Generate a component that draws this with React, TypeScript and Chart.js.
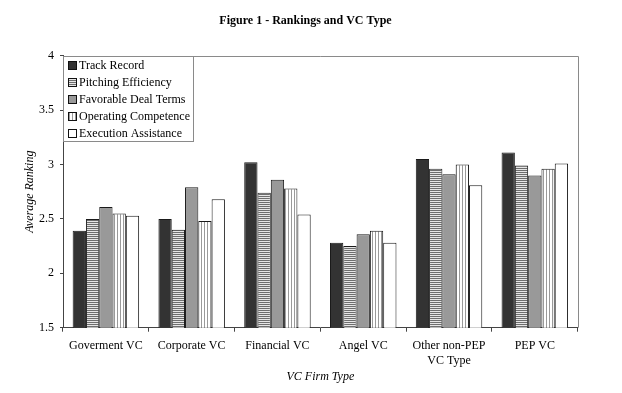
import React, { useEffect, useRef } from 'react';
import { Chart, registerables } from 'chart.js';

Chart.register(...registerables);

const chartTitle = 'Figure 1 - Rankings and VC Type';
const categories: (string | string[])[] = [
  'Goverment VC',
  'Corporate VC',
  'Financial VC',
  'Angel VC',
  ['Other non-PEP', 'VC Type'],
  'PEP VC',
];
const seriesNames = [
  'Track Record',
  'Pitching Efficiency',
  'Favorable Deal Terms',
  'Operating Competence',
  'Execution Assistance',
];
const trackRecord = [2.39, 2.5, 3.02, 2.28, 3.05, 3.11];
const pitchingEfficiency = [2.5, 2.4, 2.74, 2.25, 2.96, 2.99];
const favorableDealTerms = [2.61, 2.79, 2.86, 2.36, 2.91, 2.9];
const operatingCompetence = [2.55, 2.48, 2.78, 2.39, 3.0, 2.96];
const executionAssistance = [2.53, 2.68, 2.54, 2.28, 2.81, 3.01];
const yMin = 1.5;
const yMax = 4;
const yStep = 0.5;
const yTitle = 'Average Ranking';
const xTitle = 'VC Firm Type';

const SERIF = '"Liberation Serif", "Times New Roman", serif';

function makePattern(kind: 'h' | 'v'): CanvasPattern | string {
  const c = document.createElement('canvas');
  const ctx = c.getContext('2d');
  if (!ctx) return '#aaa';
  if (kind === 'h') {
    c.width = 4;
    c.height = 2;
    ctx.fillStyle = '#e6e6e6';
    ctx.fillRect(0, 0, 4, 2);
    ctx.fillStyle = '#6e6e6e';
    ctx.fillRect(0, 0, 4, 1);
  } else {
    c.width = 3;
    c.height = 4;
    ctx.fillStyle = '#ffffff';
    ctx.fillRect(0, 0, 3, 4);
    ctx.fillStyle = '#9a9a9a';
    ctx.fillRect(0, 0, 1, 4);
  }
  return ctx.createPattern(c, 'repeat') || '#aaa';
}

const frameAndLegend = {
  id: 'frameAndLegend',
  afterLayout(chart: any) {
    const t = chart.titleBlock;
    if (t) {
      t.left = 0;
      t.right = 611;
      t.width = 611;
    }
  },
  afterDraw(chart: any) {
    const { ctx, chartArea } = chart;
    const { left, top, right, bottom } = chartArea;
    ctx.save();
    ctx.strokeStyle = '#8a8a8a';
    ctx.lineWidth = 1;
    ctx.beginPath();
    ctx.moveTo(left, Math.round(top) + 0.5);
    ctx.lineTo(Math.round(right) + 0.5, Math.round(top) + 0.5);
    ctx.lineTo(Math.round(right) + 0.5, bottom);
    ctx.stroke();

    const lx = Math.round(left);
    const ly = Math.round(top);
    const lw = 130;
    const lh = 85;
    ctx.fillStyle = '#ffffff';
    ctx.fillRect(lx, ly, lw, lh);
    ctx.strokeStyle = '#8a8a8a';
    ctx.strokeRect(lx + 0.5, ly + 0.5, lw, lh);
    ctx.font = '12px ' + SERIF;
    ctx.textBaseline = 'middle';
    ctx.textAlign = 'left';
    chart.data.datasets.forEach((ds: any, i: number) => {
      const cy = ly + 9.5 + i * 17.1;
      const bx = lx + 5;
      const by = Math.round(cy - 4.5);
      ctx.fillStyle = ds.backgroundColor;
      ctx.fillRect(bx, by, 9, 9);
      ctx.strokeStyle = '#111';
      ctx.strokeRect(bx + 0.5, by + 0.5, 8, 8);
      ctx.fillStyle = '#000';
      ctx.fillText(ds.label, lx + 16, cy);
    });
    ctx.restore();
  },
};

export default function App() {
  const ref = useRef<HTMLCanvasElement | null>(null);

  useEffect(() => {
    if (!ref.current) return;
    const fills = [
      '#333333',
      makePattern('h'),
      '#999999',
      makePattern('v'),
      '#ffffff',
    ];
    const values = [
      trackRecord,
      pitchingEfficiency,
      favorableDealTerms,
      operatingCompetence,
      executionAssistance,
    ];
    const chart = new Chart(ref.current, {
      type: 'bar',
      data: {
        labels: categories as any,
        datasets: seriesNames.map((name, i) => ({
          label: name,
          data: values[i],
          backgroundColor: fills[i] as any,
          borderColor: '#1a1a1a',
          borderWidth: 1,
          categoryPercentage: 0.775,
          barPercentage: 1.0,
        })),
      },
      options: {
        animation: false,
        responsive: true,
        maintainAspectRatio: false,
        layout: { padding: { left: 0, right: 44.3, top: 0, bottom: 0 } },
        plugins: {
          legend: { display: false },
          tooltip: { enabled: false },
          title: {
            display: true,
            text: chartTitle,
            color: '#000',
            font: { family: SERIF, size: 12, weight: 'bold', lineHeight: 1.2 },
            padding: { top: 13.8, bottom: 27.5 },
          },
        },
        scales: {
          x: {
            grid: {
              display: true,
              drawOnChartArea: false,
              drawTicks: true,
              tickLength: 4,
              color: '#444',
              offset: true,
            },
            border: { display: true, color: '#444', width: 1 },
            ticks: {
              color: '#000',
              padding: 6,
              maxRotation: 0,
              autoSkip: false,
              font: { family: SERIF, size: 12, lineHeight: 1.3 },
            },
            title: {
              display: true,
              text: xTitle,
              color: '#000',
              font: { family: SERIF, size: 12, style: 'italic', lineHeight: 1.2 },
              padding: { top: 0, bottom: 8.8 },
            },
            afterFit: (scale: any) => {
              scale.height = 65.3;
            },
          },
          y: {
            min: yMin,
            max: yMax,
            ticks: {
              stepSize: yStep,
              color: '#000',
              padding: 6,
              font: { family: SERIF, size: 12 },
              callback: (value: any) => String(Number(value)),
            },
            grid: {
              display: true,
              drawOnChartArea: false,
              drawTicks: true,
              tickLength: 3,
              color: '#444',
            },
            border: { display: true, color: '#444', width: 1 },
            title: {
              display: true,
              text: yTitle,
              color: '#000',
              font: { family: SERIF, size: 12, style: 'italic', lineHeight: 1.2 },
              padding: { top: 22.8, bottom: 0 },
            },
            afterFit: (scale: any) => {
              scale.width = 63;
            },
          },
        },
      },
      plugins: [frameAndLegend],
    });
    return () => chart.destroy();
  }, []);

  return (
    <div
      style={{
        position: 'fixed',
        left: 0,
        top: 0,
        width: 622,
        height: 393,
        background: '#fff',
      }}
    >
      <canvas ref={ref} />
    </div>
  );
}
